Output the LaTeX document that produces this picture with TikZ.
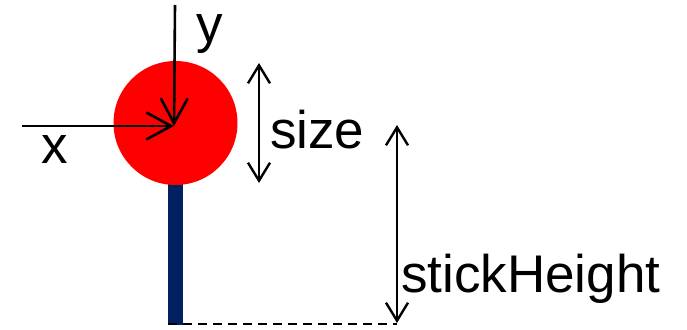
\documentclass[tikz,border=0pt]{standalone}
\usepackage{fontspec}
\setmainfont{Liberation Sans}
\usetikzlibrary{arrows.meta}
\usepackage{xcolor}
\definecolor{ballred}{HTML}{FF0000}
\definecolor{sticknavy}{HTML}{002060}
\tikzset{
  label/.style={inner sep=0pt, font=\fontsize{53}{60}\selectfont},
  axisarrow/.style={-{Straight Barb[length=25pt, width=27pt]}, line width=2.6pt, black},
  dimarrow/.style={{Straight Barb[length=18pt, width=22pt]}-{Straight Barb[length=18pt, width=22pt]}, line width=2.4pt, black}
}

\begin{document}
\begin{tikzpicture}[x=1pt, y=-1pt]
  \useasboundingbox (0,0) rectangle (687,329);
  \node[draw=none, fill=sticknavy, minimum width=15pt, minimum height=150pt, inner sep=0pt, anchor=south] (stick) at (175.5,325) {};
  \node[circle, fill=ballred, minimum size=124pt, inner sep=0pt] (ball) at (175.5,123) {};
  \coordinate (xstart) at (22,126);
  \coordinate (ystart) at (175,5);
  \coordinate (origin) at (174,126);
  \draw[axisarrow] (xstart) -- (origin);
  \draw[axisarrow] (ystart) -- (origin);
  \node[label, anchor=base] (xlab) at (55,163) {x};
  \node[label, anchor=base] (ylab) at (210,43) {y};
  \coordinate (sizetop) at (259,63);
  \coordinate (sizebot) at (259,183);
  \draw[dimarrow] (sizetop) -- (sizebot);
  \node[label, anchor=base west] (sizelab) at (270,148) {size};
  \coordinate (shtop) at (397,125);
  \coordinate (shbot) at (397,323);
  \coordinate (dashend) at (397,324);
  \draw[dimarrow] (shtop) -- (shbot);
  \draw[line width=2.6pt, dash pattern=on 9pt off 6pt] (stick.south west |- dashend) -- (dashend);
  \node[label, anchor=base west] (shlab) at (401,292) {stickHeight};
\end{tikzpicture}
\end{document}
